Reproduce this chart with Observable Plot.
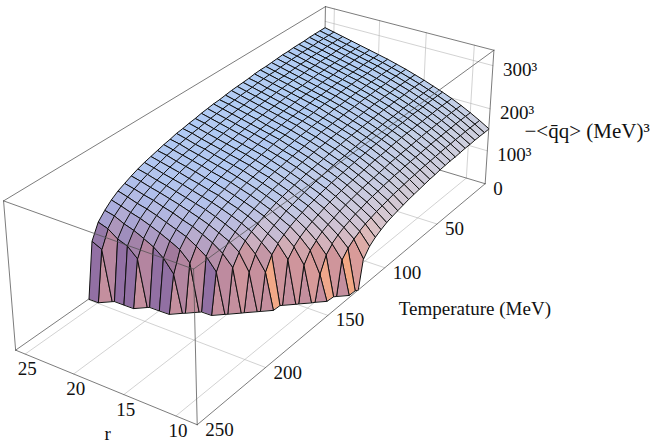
<!DOCTYPE html>
<html>
<head>
<meta charset="utf-8">
<script src="https://cdn.jsdelivr.net/npm/d3@7"></script>
<script src="https://cdn.jsdelivr.net/npm/@observablehq/plot@0.6"></script>
<style>
html,body{margin:0;padding:0;background:#fff;}
#chart{position:relative;width:654px;height:444px;}
</style>
</head>
<body>
<div id="chart"></div>
<script>
// ---- data: cube root of -<qq> (MeV), one row per r, columns follow tValues ----
const rValues = [8,9,10,11,12,13,14,15,16,17,18,19,20,21,22,23,24,25,26];
const tValues = [0,5,10,15,20,25,30,35,40,45,50,55,60,65,70,75,80,85,90,95,100,105,110,115,120,125,130,135,140,145,150,155,160,165,170,175,180,185,190,195,200];
const zR08 = [153,153,153,153,152,152,151,150,150,149,148,146,145,143,141,139,137,134,131,128,124,118,111,101,83,0,0,0,0,0,0,0,0,0,0,0,0,0,0,0,0];
const zR09 = [166,166,166,166,165,165,164,164,163,162,161,160,159,157,156,154,152,150,147,144,141,137,133,127,120,110,94,0,0,0,0,0,0,0,0,0,0,0,0,0,0];
const zR10 = [178,178,178,178,177,177,176,176,175,174,173,172,171,170,168,167,165,163,160,158,155,151,148,143,138,131,122,108,75,0,0,0,0,0,0,0,0,0,0,0,0];
const zR11 = [189,189,189,189,188,188,187,187,186,185,184,183,182,181,180,178,176,174,172,170,167,164,161,157,152,147,141,132,121,99,0,0,0,0,0,0,0,0,0,0,0];
const zR12 = [199,199,199,199,198,198,197,197,196,196,195,194,193,191,190,189,187,185,183,181,179,176,173,170,166,161,156,150,142,131,114,0,0,0,0,0,0,0,0,0,0];
const zR13 = [208,208,208,208,207,207,207,206,205,205,204,203,202,201,200,198,197,195,193,191,189,187,184,181,177,174,169,164,158,150,141,127,99,0,0,0,0,0,0,0,0];
const zR14 = [216,216,216,216,215,215,215,214,213,213,212,211,210,209,208,206,205,203,202,200,198,195,193,190,187,183,179,175,169,163,155,146,131,102,0,0,0,0,0,0,0];
const zR15 = [224,224,224,224,223,223,223,222,222,221,220,219,218,217,216,215,213,212,210,208,206,204,202,199,196,193,190,186,181,176,169,162,152,138,115,0,0,0,0,0,0];
const zR16 = [231,231,231,231,230,230,230,229,229,228,227,226,225,224,223,222,221,219,218,216,214,212,210,207,204,201,198,194,190,185,179,173,164,154,138,108,0,0,0,0,0];
const zR17 = [238,238,238,238,237,237,237,236,236,235,234,233,232,231,230,229,228,226,225,223,221,219,217,214,212,209,205,202,198,193,188,182,174,165,153,134,0,0,0,0,0];
const zR18 = [244,244,244,244,243,243,243,242,242,241,240,239,239,237,236,235,234,232,231,229,227,225,223,221,218,215,212,209,205,200,195,190,183,175,164,149,123,0,0,0,0];
const zR19 = [250,250,250,250,249,249,249,248,248,247,246,245,245,244,242,241,240,239,237,235,234,232,229,227,224,222,219,215,212,207,203,197,191,183,174,162,144,101,0,0,0];
const zR20 = [255,255,255,255,254,254,254,253,253,252,251,250,250,249,247,246,245,244,242,240,239,237,234,232,230,227,224,221,217,213,208,203,197,190,181,170,155,128,0,0,0];
const zR21 = [260,260,260,260,259,259,259,258,258,257,256,255,255,254,253,251,250,249,247,245,244,242,240,237,235,232,229,226,222,218,214,209,203,197,189,178,165,145,0,0,0];
const zR22 = [265,265,265,265,264,264,264,263,263,262,261,260,260,259,258,256,255,254,252,251,249,247,245,242,240,237,234,231,228,224,219,215,209,203,195,186,174,156,122,0,0];
const zR23 = [270,270,270,270,269,269,269,268,268,267,266,266,265,264,263,261,260,259,257,256,254,252,250,248,245,242,240,236,233,229,225,220,215,209,202,193,182,166,142,0,0];
const zR24 = [275,275,275,275,274,274,274,273,273,272,271,270,270,269,267,266,265,264,262,261,259,257,255,252,250,247,244,241,238,234,230,225,220,214,207,198,188,173,150,0,0];
const zR25 = [280,280,280,280,279,279,279,278,278,277,276,275,275,274,273,271,270,269,267,266,264,262,260,258,255,253,250,247,243,240,235,231,226,220,213,205,195,183,165,130,0];
const zR26 = [285,285,285,285,284,284,284,283,283,282,281,280,280,279,277,276,275,274,272,270,269,267,265,262,260,257,255,251,248,244,240,236,231,225,218,211,201,188,172,140,0];
const condensateRows = [zR08,zR09,zR10,zR11,zR12,zR13,zR14,zR15,zR16,zR17,zR18,zR19,zR20,zR21,zR22,zR23,zR24,zR25,zR26];

const rTicks = [10,15,20,25];
const tTicks = [0,50,100,150,200,250];
const zTicks = [100,200,300];
const zTickLabels = ["100³","200³","300³"];
const rRange = [8,26], tRange = [0,250], zRange = [20,335];

// ---- 3D view (perspective camera) ----
const deg = Math.PI/180;
const view = {beta:55.98*deg, phi:28.73*deg, dist:3.346, ly:0.3919, lz:0.2982};
const frame = {scale:1803.55, ox:268.26, oy:190.94};

const dot=(a,b)=>a[0]*b[0]+a[1]*b[1]+a[2]*b[2];
const norm=a=>{const l=Math.hypot(a[0],a[1],a[2])||1;return [a[0]/l,a[1]/l,a[2]/l];};
function makeCam(v){
  const cb=Math.cos(v.beta), sb=Math.sin(v.beta), cp=Math.cos(v.phi), sp=Math.sin(v.phi);
  return {eye:[v.dist*cp*sb,-v.dist*cp*cb,v.dist*sp], w:[-cp*sb,cp*cb,-sp], R:[-cb,-sb,0], U:[-sb*sp,cb*sp,cp]};
}
function world(r,T,z){
  return [(T-(tRange[0]+tRange[1])/2)/(tRange[1]-tRange[0]),
          (r-(rRange[0]+rRange[1])/2)/(rRange[1]-rRange[0])*view.ly,
          (z-(zRange[0]+zRange[1])/2)/(zRange[1]-zRange[0])*view.lz];
}
const cam=makeCam(view);
function projW(P){const p=[P[0]-cam.eye[0],P[1]-cam.eye[1],P[2]-cam.eye[2]];const d=dot(p,cam.w);return {x:dot(p,cam.R)/d,y:dot(p,cam.U)/d,d};}
const P3=(r,T,z)=>projW(world(r,T,z));
const zmin=zRange[0], zmax=zRange[1];

// ---- lighting (view space: x right, y up, z toward viewer) ----
const ambient=[0.31,0.25,0.37];
const lights=[
  {dir:norm([0,1,0]),         color:[0.33,0.60,0.68],   p:1},
  {dir:norm([-0.6,-0.3,0.74]),color:[0.263,0.192,0.273],p:1},
  {dir:norm([1,-0.15,0.45]),  color:[0.66,0.42,0.14],   p:1.5}
];
function shade(n){
  const c=ambient.slice();
  for(const L of lights){const k=Math.pow(Math.max(0,dot(n,L.dir)),L.p);for(let j=0;j<3;j++)c[j]+=k*L.color[j];}
  return d3.rgb(Math.min(255,c[0]*255),Math.min(255,c[1]*255),Math.min(255,c[2]*255)).formatHex();
}

// ---- surface polygons (clipped at the floor of the box) ----
const val=(i,k)=>{const v=condensateRows[i][k];return v==null?0:v;};
function clipPoly(pts){
  const out=[];
  for(let j=0;j<pts.length;j++){
    const a=pts[(j+pts.length-1)%pts.length], b=pts[j];
    const ai=a[2]>=zmin, bi=b[2]>=zmin;
    if(ai!==bi){const t=(zmin-a[2])/(b[2]-a[2]);out.push([a[0]+t*(b[0]-a[0]),a[1]+t*(b[1]-a[1]),zmin]);}
    if(bi)out.push(b);
  }
  return out;
}
const polys=[];
for(let i=0;i<rValues.length-1;i++){
  for(let k=0;k<tValues.length-1;k++){
    const c=clipPoly([[rValues[i],tValues[k],val(i,k)],[rValues[i+1],tValues[k],val(i+1,k)],[rValues[i+1],tValues[k+1],val(i+1,k+1)],[rValues[i],tValues[k+1],val(i,k+1)]]);
    if(c.length<3)continue;
    const W=c.map(q=>world(q[0],q[1],q[2]));
    let n=[0,0,0];
    for(let j=0;j<W.length;j++){const a=W[j],b=W[(j+1)%W.length];n[0]+=(a[1]-b[1])*(a[2]+b[2]);n[1]+=(a[2]-b[2])*(a[0]+b[0]);n[2]+=(a[0]-b[0])*(a[1]+b[1]);}
    let nv=norm([dot(n,cam.R),dot(n,cam.U),-dot(n,cam.w)]);
    if(nv[2]<0)nv=nv.map(x=>-x);
    const P=W.map(projW);
    polys.push({P,depth:d3.mean(P,q=>q.d),fill:shade(nv)});
  }
}
polys.sort((a,b)=>b.depth-a.depth);
const surfPts=[];
polys.forEach((pg,id)=>pg.P.forEach(q=>surfPts.push({id,x:q.x,y:q.y,fill:pg.fill})));

// ---- box edges and face grids ----
const [r0,r1]=rRange,[t0,t1]=tRange;
const segs=list=>{const out=[];list.forEach((s,id)=>{const a=P3(...s[0]),b=P3(...s[1]);out.push({id,x:a.x,y:a.y},{id,x:b.x,y:b.y});});return out;};
const gridSegs=[];
[50,100,150,200].forEach(T=>gridSegs.push([[r0,T,zmin],[r1,T,zmin]]));
rTicks.forEach(r=>gridSegs.push([[r,t0,zmin],[r,t1,zmin]]));
rTicks.forEach(r=>gridSegs.push([[r,t0,zmin],[r,t0,zmax]]));
zTicks.forEach(z=>gridSegs.push([[r0,t0,z],[r1,t0,z]]));
const backSegs=[[[r1,t1,zmax],[r1,t0,zmax]],[[r1,t0,zmax],[r0,t0,zmax]],[[r1,t0,zmin],[r1,t0,zmax]],[[r1,t1,zmin],[r1,t0,zmin]],[[r1,t0,zmin],[r0,t0,zmin]]];
const frontSegs=[[[r1,t1,zmin],[r0,t1,zmin]],[[r0,t1,zmin],[r0,t0,zmin]],[[r0,t1,zmin],[r0,t1,zmax]],[[r1,t1,zmax],[r0,t1,zmax]],[[r0,t1,zmax],[r0,t0,zmax]],[[r1,t1,zmin],[r1,t1,zmax]],[[r0,t0,zmin],[r0,t0,zmax]]];

// ---- labels ----
const rLab=rTicks.map(r=>({...P3(r,t1,zmin),label:String(r)}));
const tLab=tTicks.map(T=>({...P3(r0,T,zmin),label:String(T)}));
const zLab=zTicks.map((z,i)=>({...P3(r0,t0,z),label:zTickLabels[i]}));
const rTitle=[{...P3((r0+r1)/2,t1,zmin),label:"r"}];
const tTitle=[{...P3(r0,100,zmin),label:"Temperature (MeV)"}];
const zTitle=[{...P3(r0,t0,(zmin+zmax)/2),label:"−<q\u0304q> (MeV)³"}];

const W0=654,H0=444;
const font={fontFamily:"Liberation Serif, Times New Roman, serif",fontSize:19,fill:"#111"};
const chart=Plot.plot({
  width:W0,height:H0,margin:0,
  x:{domain:[(0-frame.ox)/frame.scale,(W0-frame.ox)/frame.scale],range:[0,W0],axis:null},
  y:{domain:[(frame.oy-H0)/frame.scale,frame.oy/frame.scale],range:[H0,0],axis:null},
  color:{type:"identity"},
  style:{background:"#fff",overflow:"visible"},
  marks:[
    Plot.line(segs(gridSegs),{x:"x",y:"y",z:"id",stroke:"#b4b4b4",strokeWidth:0.6}),
    Plot.line(segs(backSegs),{x:"x",y:"y",z:"id",stroke:"#505050",strokeWidth:0.75}),
    Plot.line(surfPts,{x:"x",y:"y",z:"id",fill:"fill",stroke:"#101010",strokeWidth:1,strokeLinejoin:"round",curve:"linear-closed"}),
    Plot.line(segs(frontSegs),{x:"x",y:"y",z:"id",stroke:"#505050",strokeWidth:0.75}),
    Plot.text(rLab,{x:"x",y:"y",text:"label",dx:2,dy:15,textAnchor:"middle",...font}),
    Plot.text(tLab,{x:"x",y:"y",text:"label",dx:8,dy:5,textAnchor:"start",...font}),
    Plot.text(zLab,{x:"x",y:"y",text:"label",dx:10,dy:4,textAnchor:"start",...font}),
    Plot.text(rTitle,{x:"x",y:"y",text:"label",dx:4,dy:48,textAnchor:"middle",...font}),
    Plot.text(tTitle,{x:"x",y:"y",text:"label",dx:14,dy:41,textAnchor:"start",...font}),
    Plot.text(zTitle,{x:"x",y:"y",text:"label",dx:35,dy:13,textAnchor:"start",...font,fontSize:21})
  ]
});
document.getElementById("chart").appendChild(chart);
</script>
</body>
</html>
